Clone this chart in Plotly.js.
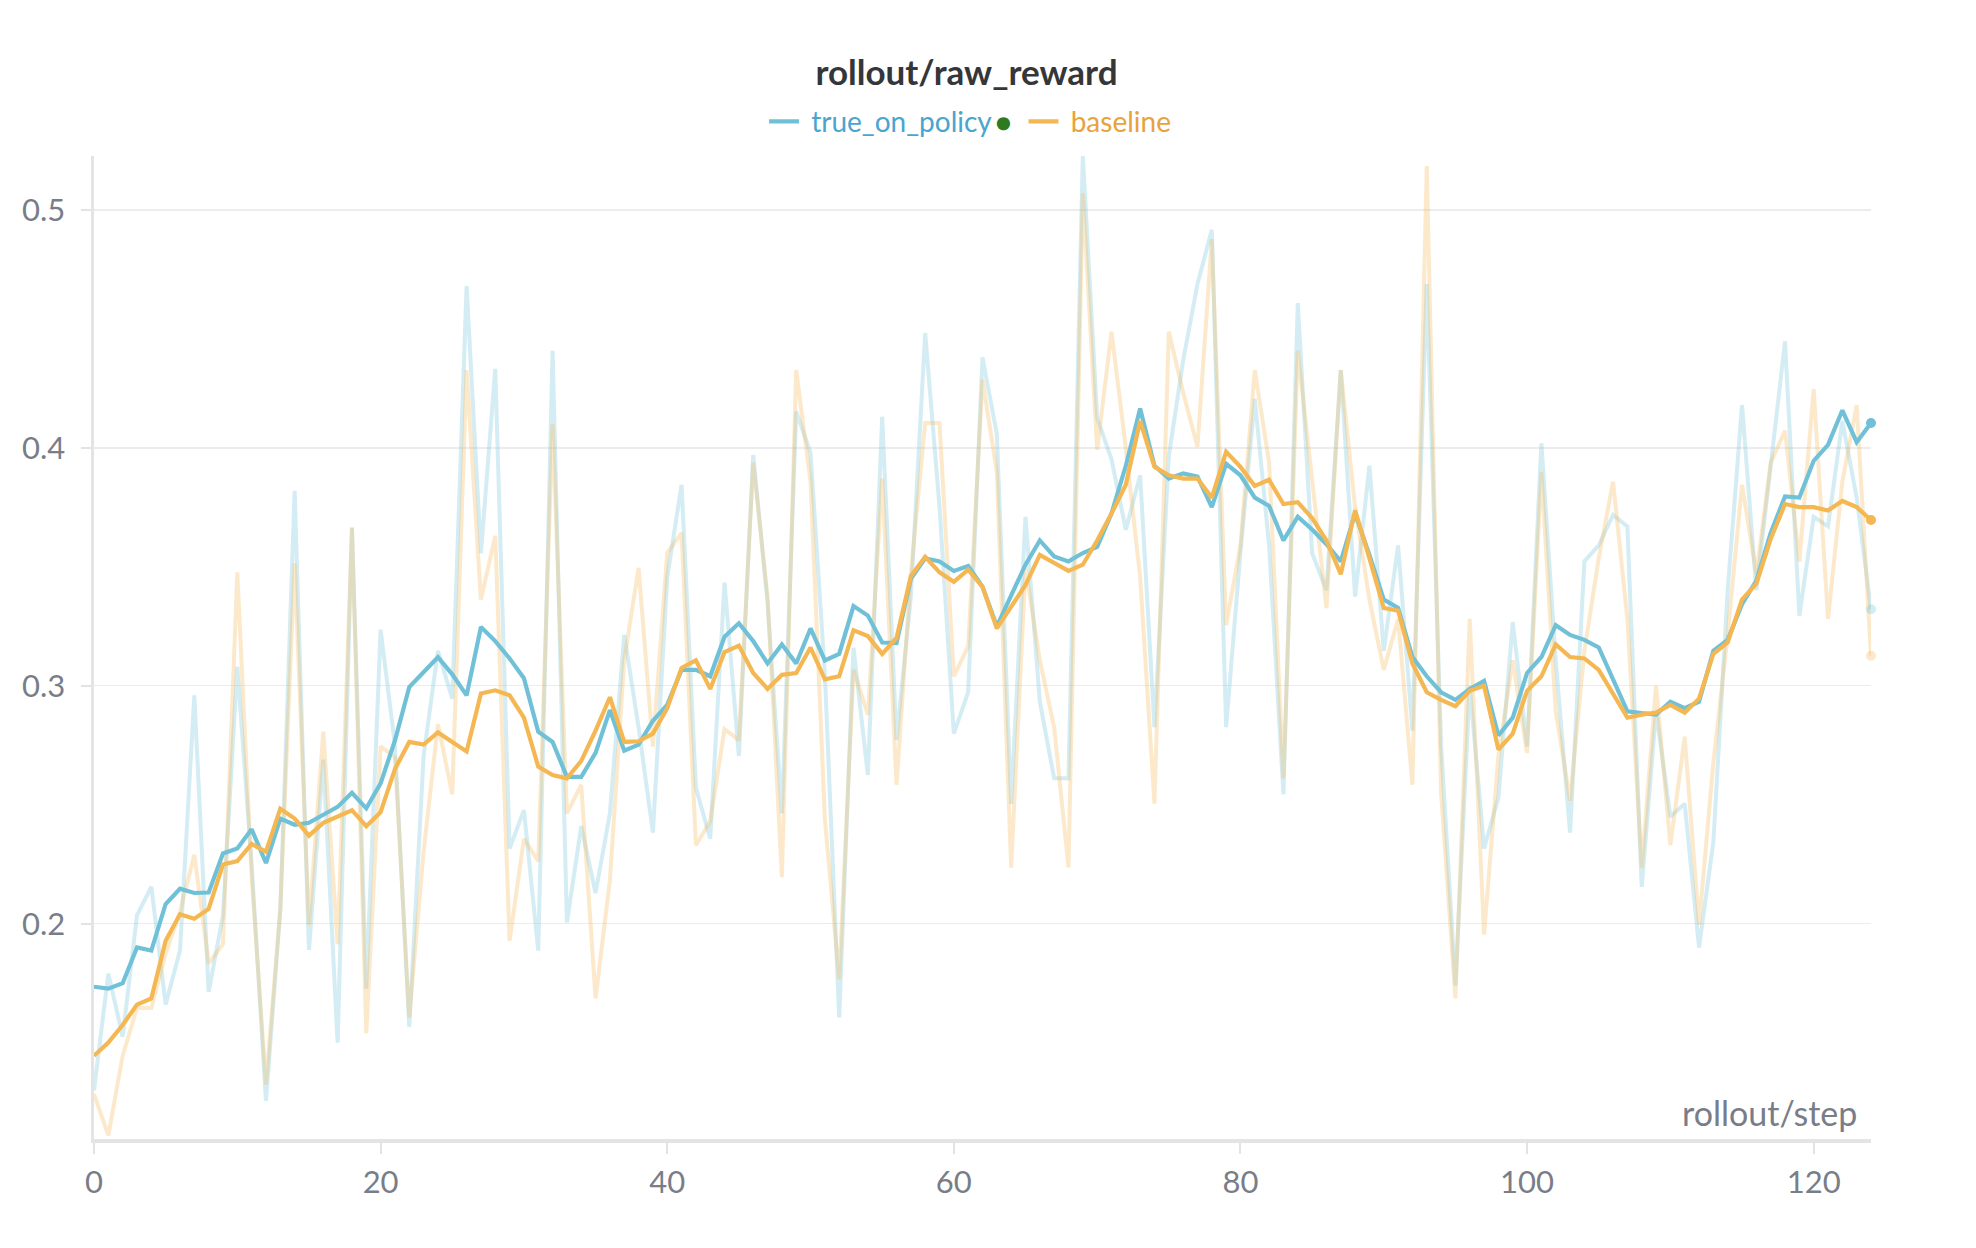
<!DOCTYPE html>
<html>
<head>
<meta charset="utf-8">
<script src="https://cdn.plot.ly/plotly-3.0.1.min.js"></script>
<style>
  html, body { margin: 0; padding: 0; background: #ffffff; }
  #chart { width: 1976px; height: 1248px; }
</style>
</head>
<body>
<div id="chart"></div>
<script>
// ---- data ----
const steps = Array.from({length: 125}, (_, i) => i);

const truePolicyRaw = [
  0.130, 0.179, 0.1525, 0.2035, 0.2155, 0.166, 0.1887, 0.296, 0.1713, 0.2035,
  0.308, 0.225, 0.1255, 0.206, 0.382, 0.189, 0.269, 0.150, 0.3665, 0.1727,
  0.3236, 0.275, 0.1566, 0.2705, 0.3147, 0.2946, 0.468, 0.3558, 0.4332, 0.2316,
  0.2477, 0.1887, 0.4408, 0.2005, 0.241, 0.2129, 0.2464, 0.3214, 0.2826, 0.2383,
  0.3456, 0.3845, 0.2571, 0.2357, 0.3434, 0.2705, 0.397, 0.3349, 0.2464, 0.4153,
  0.3979, 0.305, 0.1606, 0.316, 0.2625, 0.4131, 0.2772, 0.3375, 0.4483, 0.3751,
  0.2799, 0.2973, 0.4381, 0.4059, 0.2504, 0.371, 0.2933, 0.2611, 0.2611, 0.523,
  0.4126, 0.3952, 0.3656, 0.3885, 0.2826, 0.3965, 0.4367, 0.4689, 0.4917, 0.2826,
  0.3563, 0.4206, 0.359, 0.2544, 0.4609, 0.3558, 0.3402, 0.4327, 0.3375, 0.3925,
  0.3147, 0.359, 0.2812, 0.4689, 0.275, 0.174, 0.300, 0.2316, 0.253, 0.3268,
  0.2745, 0.4019, 0.3107, 0.2383, 0.3523, 0.359, 0.3718, 0.367, 0.2155, 0.2893,
  0.245, 0.2504, 0.190, 0.2343, 0.3402, 0.418, 0.3402, 0.3938, 0.4448, 0.3295,
  0.371, 0.367, 0.4113, 0.3791, 0.3322
];

const baselineRaw = [
  0.1284, 0.111, 0.1445, 0.1646, 0.1646, 0.1874, 0.205, 0.229, 0.1834, 0.1914,
  0.3477, 0.220, 0.1324, 0.206, 0.3515, 0.1995, 0.2807, 0.1914, 0.3665, 0.154,
  0.2745, 0.270, 0.1606, 0.2303, 0.2839, 0.2544, 0.4327, 0.3362, 0.363, 0.1928,
  0.2357, 0.2263, 0.4099, 0.2464, 0.2584, 0.1686, 0.2182, 0.3107, 0.3496, 0.2745,
  0.3558, 0.3643, 0.233, 0.243, 0.2818, 0.2772, 0.3938, 0.3375, 0.2196, 0.4327,
  0.3858, 0.244, 0.1767, 0.3067, 0.2879, 0.3871, 0.2584, 0.3469, 0.4105, 0.4105,
  0.304, 0.3166, 0.4287, 0.3898, 0.2236, 0.3496, 0.3107, 0.2826, 0.2236, 0.507,
  0.3992, 0.4488, 0.400, 0.3456, 0.2504, 0.4488, 0.4233, 0.4005, 0.4877, 0.3255,
  0.359, 0.4327, 0.3938, 0.2611, 0.4408, 0.385, 0.3327, 0.4327, 0.3751, 0.3362,
  0.3067, 0.3281, 0.2584, 0.5185, 0.255, 0.1686, 0.3281, 0.1954, 0.2705, 0.3107,
  0.2718, 0.3898, 0.2893, 0.2517, 0.3147, 0.3536, 0.3858, 0.3281, 0.2236, 0.300,
  0.233, 0.2786, 0.1995, 0.2678, 0.3214, 0.3845, 0.3469, 0.3938, 0.4072, 0.3523,
  0.4247, 0.3281, 0.3858, 0.418, 0.3126
];

const truePolicySmooth = [
  0.1735, 0.1727, 0.175, 0.190, 0.1887, 0.2083, 0.2147, 0.2129, 0.2131, 0.2295,
  0.2316, 0.2397, 0.2255, 0.2442, 0.2416, 0.2424, 0.2458, 0.2491, 0.255, 0.2485,
  0.259, 0.277, 0.2995, 0.3059, 0.312, 0.3048, 0.296, 0.3247, 0.3188, 0.3115,
  0.3032, 0.2807, 0.2764, 0.2617, 0.2617, 0.2718, 0.2898, 0.2727, 0.2753, 0.2853,
  0.292, 0.3067, 0.3067, 0.304, 0.3206, 0.3263, 0.3188, 0.3094, 0.3174, 0.3094,
  0.3241, 0.3107, 0.3134, 0.3335, 0.3295, 0.3182, 0.318, 0.345, 0.3536, 0.3523,
  0.3483, 0.3504, 0.3416, 0.325, 0.3375, 0.3509, 0.3611, 0.3544, 0.3523, 0.3558,
  0.3584, 0.3724, 0.3925, 0.4166, 0.3925, 0.3871, 0.3893, 0.3879, 0.3751, 0.3933,
  0.3885, 0.3791, 0.3756, 0.3611, 0.3711, 0.3657, 0.3595, 0.3523, 0.3724, 0.355,
  0.3362, 0.3327, 0.3121, 0.304, 0.2973, 0.2941, 0.2987, 0.3021, 0.2791, 0.2866,
  0.3054, 0.3121, 0.3255, 0.3214, 0.3193, 0.3161, 0.3027, 0.2893, 0.2885, 0.2879,
  0.2933, 0.2906, 0.2933, 0.3147, 0.3193, 0.3343, 0.3442, 0.3643, 0.3796, 0.3791,
  0.3946, 0.4013, 0.4158, 0.4024, 0.4105
];

const baselineSmooth = [
  0.1445, 0.150, 0.1574, 0.166, 0.1686, 0.1928, 0.204, 0.2021, 0.2062, 0.2249,
  0.2263, 0.2335, 0.2303, 0.2483, 0.2442, 0.237, 0.2424, 0.245, 0.2477, 0.241,
  0.2469, 0.265, 0.2764, 0.2753, 0.2804, 0.2764, 0.2724, 0.2968, 0.2981, 0.296,
  0.2866, 0.266, 0.2625, 0.2611, 0.2684, 0.2812, 0.2952, 0.2764, 0.2767, 0.2799,
  0.2906, 0.3075, 0.3107, 0.2987, 0.3142, 0.3169, 0.3054, 0.2987, 0.3046, 0.3054,
  0.3161, 0.3027, 0.304, 0.3233, 0.3209, 0.3134, 0.3201, 0.3461, 0.3542, 0.3477,
  0.3437, 0.3488, 0.3416, 0.3241, 0.3335, 0.3424, 0.355, 0.3515, 0.3483, 0.3509,
  0.3611, 0.3724, 0.3845, 0.4113, 0.392, 0.3885, 0.3871, 0.3871, 0.3791, 0.3984,
  0.392, 0.384, 0.3866, 0.3764, 0.3772, 0.3705, 0.3611, 0.3469, 0.3738, 0.3536,
  0.3327, 0.3316, 0.3094, 0.2973, 0.2941, 0.2914, 0.2979, 0.300, 0.2732, 0.2799,
  0.2979, 0.304, 0.3174, 0.3121, 0.3115, 0.3067, 0.2968, 0.2866, 0.2879, 0.2887,
  0.292, 0.2887, 0.2946, 0.3134, 0.3182, 0.3362, 0.3429, 0.3617, 0.3764, 0.3751,
  0.3751, 0.3737, 0.3777, 0.3751, 0.3697
];

const xTickVals = [0, 20, 40, 60, 80, 100, 120];
const yTickVals = [0.2, 0.3, 0.4, 0.5];
const yTickText = ['0.2', '0.3', '0.4', '0.5'];

// ---- styling ----
const BLUE = 'rgb(112,193,215)';
const ORANGE = 'rgb(245,183,82)';
const BLUE_RAW = 'rgba(112,193,215,0.30)';
const ORANGE_RAW = 'rgba(245,183,82,0.30)';
const FONT = 'Lato, "Source Sans Pro", "Noto Sans", sans-serif';
const GREY_TXT = 'rgb(121,125,135)';

const last = a => a[a.length - 1];
const lastX = [last(steps)];

const traces = [
  {x: steps, y: truePolicyRaw, type: 'scatter', mode: 'lines', showlegend: false,
   line: {color: BLUE_RAW, width: 4}, hoverinfo: 'skip'},
  {x: steps, y: baselineRaw, type: 'scatter', mode: 'lines', showlegend: false,
   line: {color: ORANGE_RAW, width: 4}, hoverinfo: 'skip'},
  {x: steps, y: truePolicySmooth, type: 'scatter', mode: 'lines',
   name: ' <span style="color:rgb(74,164,208)">true_on_policy</span><span style="color:rgb(46,122,32);font-size:27px">\u2009●</span> ',
   line: {color: BLUE, width: 4.2}},
  {x: steps, y: baselineSmooth, type: 'scatter', mode: 'lines',
   name: ' <span style="color:rgb(232,162,60)">baseline</span>',
   line: {color: ORANGE, width: 4.2}},
  // end-point dots
  {x: lastX, y: [last(truePolicyRaw)], type: 'scatter', mode: 'markers', showlegend: false,
   cliponaxis: false, marker: {color: BLUE_RAW, size: 10}, hoverinfo: 'skip'},
  {x: lastX, y: [last(baselineRaw)], type: 'scatter', mode: 'markers', showlegend: false,
   cliponaxis: false, marker: {color: ORANGE_RAW, size: 10}, hoverinfo: 'skip'},
  {x: lastX, y: [last(truePolicySmooth)], type: 'scatter', mode: 'markers', showlegend: false,
   cliponaxis: false, marker: {color: BLUE, size: 10}, hoverinfo: 'skip'},
  {x: lastX, y: [last(baselineSmooth)], type: 'scatter', mode: 'markers', showlegend: false,
   cliponaxis: false, marker: {color: ORANGE, size: 10}, hoverinfo: 'skip'}
];

const layout = {
  width: 1976,
  height: 1248,
  paper_bgcolor: '#ffffff',
  plot_bgcolor: '#ffffff',
  margin: {l: 94, r: 105, t: 156, b: 109, pad: 0},
  font: {family: FONT, color: GREY_TXT, size: 31},
  title: {
    text: '<b>rollout/raw_reward</b>',
    font: {family: FONT, size: 35, color: 'rgb(52,54,58)'},
    x: 0.491, xref: 'paper', xanchor: 'center',
    y: 0.942, yref: 'container', yanchor: 'middle'
  },
  showlegend: true,
  legend: {
    orientation: 'h',
    x: 0.493, xanchor: 'center',
    y: 1.035, yanchor: 'middle',
    font: {family: FONT, size: 28},
    bgcolor: 'rgba(0,0,0,0)',
    itemwidth: 30,
    tracegroupgap: 0
  },
  xaxis: {
    range: [0, 124],
    tickmode: 'array', tickvals: xTickVals,
    ticks: 'outside', ticklen: 11, tickwidth: 2, tickcolor: '#e3e3e3',
    ticklabelstandoff: 2,
    tickfont: {family: FONT, size: 31, color: GREY_TXT},
    showgrid: false, zeroline: false,
    showline: true, linecolor: '#e4e4e4', linewidth: 3.5,
    fixedrange: true
  },
  yaxis: {
    range: [0.1095, 0.5227],
    tickmode: 'array', tickvals: yTickVals, ticktext: yTickText,
    ticks: 'outside', ticklen: 10, tickwidth: 2, tickcolor: '#e3e3e3',
    ticklabelstandoff: 9,
    tickfont: {family: FONT, size: 31, color: GREY_TXT},
    showgrid: true, gridcolor: '#ececec', gridwidth: 1.2,
    zeroline: false,
    showline: true, linecolor: '#e4e4e4', linewidth: 3.5,
    fixedrange: true
  },
  annotations: [{
    text: 'rollout/step',
    xref: 'paper', yref: 'paper', x: 1, y: 0,
    xanchor: 'right', yanchor: 'bottom',
    xshift: -12, yshift: 4,
    showarrow: false,
    font: {family: FONT, size: 34, color: GREY_TXT}
  }],
  hovermode: false
};

Plotly.newPlot('chart', traces, layout, {displayModeBar: false, staticPlot: true});
</script>
</body>
</html>
